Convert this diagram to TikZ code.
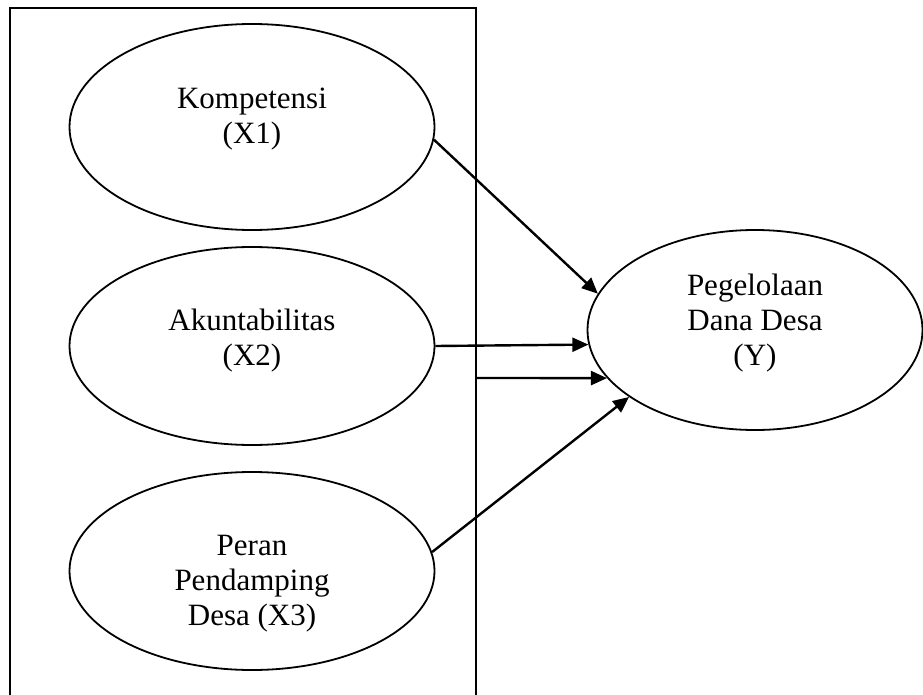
\documentclass[tikz,border=0pt]{standalone}
\usepackage{fontspec}
\setmainfont{Liberation Serif}
\usetikzlibrary{arrows.meta,shapes.geometric}

\begin{document}
\begin{tikzpicture}[x=1pt,y=-1pt,>={Triangle[length=16pt,width=14pt]},
  var/.style={draw,ellipse,line width=1.8pt,inner sep=0pt,align=center,
    font=\fontsize{31}{35}\selectfont},
  path/.style={->,line width=2.4pt}]
  \useasboundingbox (0,0) rectangle (923,695);
  % frame round the independent variables
  \draw[line width=1.9pt] (10,696) |- (476,8) -- (476,696);
  % independent variables
  \node[var,minimum width=365pt,minimum height=206pt,text depth=23pt] (X1) at (252,127) {Kompetensi\\(X1)};
  \node[var,minimum width=365pt,minimum height=198pt,text depth=17pt] (X2) at (252,346) {Akuntabilitas\\(X2)};
  \node[var,minimum width=365pt,minimum height=198pt,text height=116pt] (X3) at (252,571) {Peran\\Pendamping\\Desa (X3)};
  % dependent variable
  \node[var,minimum width=335pt,minimum height=200pt,text depth=20pt] (Y) at (755,330) {Pegelolaan\\Dana Desa\\(Y)};
  % paths
  \coordinate (fork) at (476,378);
  \draw[path] (X1.356) -- (Y.167);
  \draw[path] (X2.east) -- (Y.185);
  \draw[path] (fork) -- (Y.198);
  \draw[path] (X3.6) -- (Y.208);
\end{tikzpicture}
\end{document}
